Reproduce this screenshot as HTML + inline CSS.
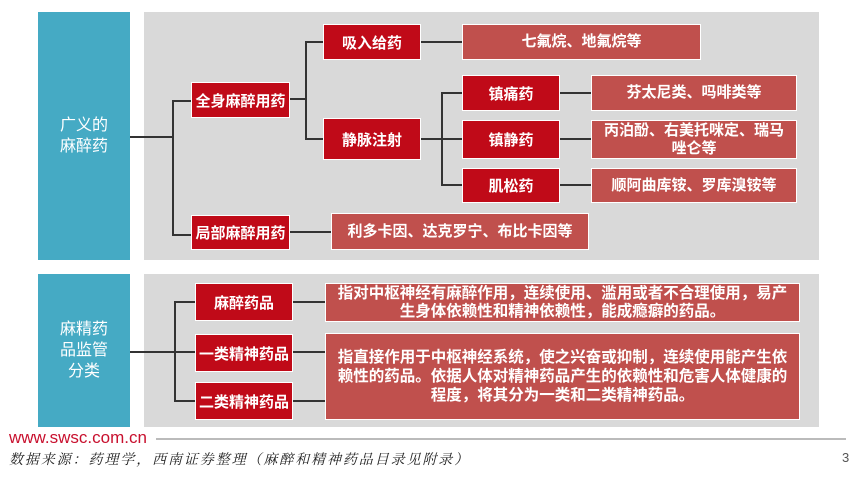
<!DOCTYPE html>
<html><head><meta charset="utf-8"><style>
body{margin:0;width:865px;height:481px;background:#fff;position:relative;overflow:hidden;font-family:"Liberation Sans","Noto Sans CJK SC",sans-serif}
.a{position:absolute;box-sizing:border-box}
.blue{background:#45aac4;color:#fff;font-size:16px;display:flex;align-items:center;justify-content:center;text-align:center;line-height:21px}
.grey{background:#d9d9d9}
.r{background:#c00a18;color:#fff;font-weight:bold;font-size:15px;border:1px solid #fff;display:flex;align-items:center;justify-content:center;text-align:center;white-space:nowrap}
.l{background:#c0504d;color:#fff;font-weight:bold;font-size:15px;border:1px solid #fff;display:flex;align-items:center;justify-content:center;text-align:center;line-height:18px}
.h{position:absolute;height:2px;background:#333}
.v{position:absolute;width:2px;background:#333}
</style></head><body>
<div class="a blue" style="left:38px;top:12px;width:92px;height:248px">广义的<br>麻醉药</div>
<div class="a blue" style="left:38px;top:274px;width:92px;height:153px">麻精药<br>品监管<br>分类</div>
<div class="a grey" style="left:144px;top:12px;width:675px;height:248px"></div>
<div class="a grey" style="left:144px;top:274px;width:675px;height:153px"></div>

<div class="h" style="left:130px;top:136px;width:43px"></div>
<div class="v" style="left:172px;top:100px;height:136px"></div>
<div class="h" style="left:172px;top:100px;width:20px"></div>
<div class="h" style="left:172px;top:234px;width:20px"></div>
<div class="h" style="left:290px;top:98px;width:16px"></div>
<div class="v" style="left:305px;top:41px;height:99px"></div>
<div class="h" style="left:305px;top:41px;width:18px"></div>
<div class="h" style="left:305px;top:138px;width:18px"></div>
<div class="h" style="left:421px;top:41px;width:41px"></div>
<div class="h" style="left:421px;top:138px;width:41px"></div>
<div class="v" style="left:441px;top:92px;height:94px"></div>
<div class="h" style="left:441px;top:92px;width:21px"></div>
<div class="h" style="left:441px;top:184px;width:21px"></div>
<div class="h" style="left:560px;top:92px;width:31px"></div>
<div class="h" style="left:560px;top:138px;width:31px"></div>
<div class="h" style="left:560px;top:184px;width:31px"></div>
<div class="h" style="left:290px;top:231px;width:41px"></div>

<div class="a r" style="left:191px;top:82px;width:99px;height:36px">全身麻醉用药</div>
<div class="a r" style="left:191px;top:215px;width:99px;height:35px">局部麻醉用药</div>
<div class="a r" style="left:323px;top:24px;width:98px;height:36px">吸入给药</div>
<div class="a r" style="left:323px;top:118px;width:98px;height:42px">静脉注射</div>
<div class="a l" style="left:462px;top:24px;width:239px;height:36px">七氟烷、地氟烷等</div>
<div class="a l" style="left:331px;top:213px;width:258px;height:37px">利多卡因、达克罗宁、布比卡因等</div>
<div class="a r" style="left:462px;top:75px;width:98px;height:36px">镇痛药</div>
<div class="a r" style="left:462px;top:120px;width:98px;height:39px">镇静药</div>
<div class="a r" style="left:462px;top:168px;width:98px;height:35px">肌松药</div>
<div class="a l" style="left:591px;top:75px;width:206px;height:36px">芬太尼类、吗啡类等</div>
<div class="a l" style="left:591px;top:120px;width:206px;height:39px">丙泊酚、右美托咪定、瑞马<br>唑仑等</div>
<div class="a l" style="left:591px;top:168px;width:206px;height:35px">顺阿曲库铵、罗库溴铵等</div>

<div class="h" style="left:130px;top:351px;width:65px"></div>
<div class="v" style="left:174px;top:301px;height:101px"></div>
<div class="h" style="left:174px;top:301px;width:21px"></div>
<div class="h" style="left:174px;top:400px;width:21px"></div>
<div class="h" style="left:293px;top:301px;width:32px"></div>
<div class="h" style="left:293px;top:351px;width:32px"></div>
<div class="h" style="left:293px;top:400px;width:32px"></div>

<div class="a r" style="left:195px;top:283px;width:98px;height:38px">麻醉药品</div>
<div class="a r" style="left:195px;top:334px;width:98px;height:38px">一类精神药品</div>
<div class="a r" style="left:195px;top:382px;width:98px;height:38px">二类精神药品</div>
<div class="a l" style="left:325px;top:283px;width:475px;height:39px;font-size:15.5px;line-height:18px;white-space:nowrap">指对中枢神经有麻醉作用，连续使用、滥用或者不合理使用，易产<br>生身体依赖性和精神依赖性，能成瘾癖的药品。</div>
<div class="a l" style="left:325px;top:333px;width:475px;height:87px;font-size:15.5px;line-height:19px;white-space:nowrap">指直接作用于中枢神经系统，使之兴奋或抑制，连续使用能产生依<br>赖性的药品。依据人体对精神药品产生的依赖性和危害人体健康的<br>程度，将其分为一类和二类精神药品。</div>

<div class="a" style="left:9px;top:428px;font-size:17px;color:#c8102e">www.swsc.com.cn</div>
<div class="a" style="left:156px;top:438px;width:690px;height:2px;background:#bbb"></div>
<div class="a" style="left:9px;top:449px;font-size:14px;font-style:italic;color:#222;font-family:'Liberation Serif','Noto Serif CJK SC',serif;letter-spacing:1.9px">数据来源：药理学，西南证券整理（麻醉和精神药品目录见附录）</div>
<div class="a" style="left:842px;top:450px;font-size:13px;color:#555">3</div>
</body></html>
